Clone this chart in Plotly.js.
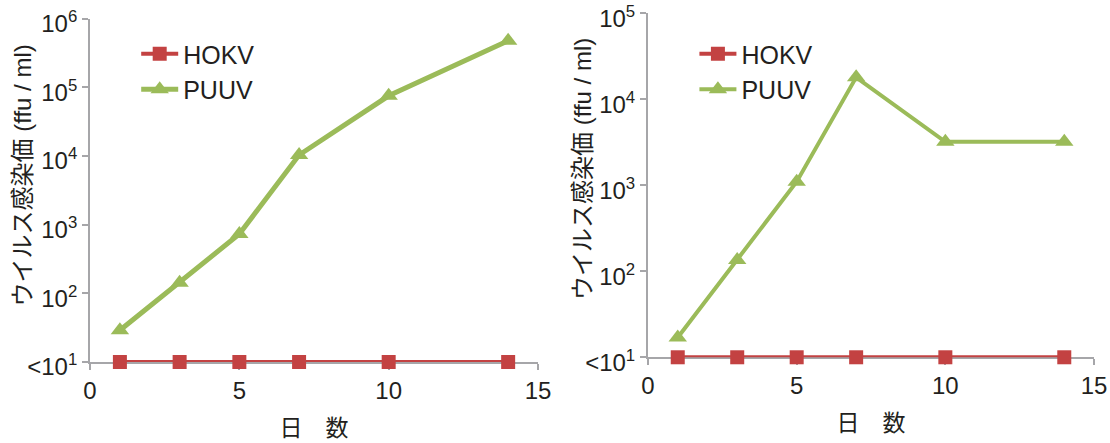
<!DOCTYPE html>
<html><head><meta charset="utf-8">
<script src="https://cdn.plot.ly/plotly-3.0.1.min.js"></script>
<style>body{margin:0;background:#fff}</style>
</head><body><div id="chart" style="width:1110px;height:443px"></div>
<script>
// Data (days vs virus titer, ffu/ml); "<10^1" plotted at 10
const days = [1, 3, 5, 7, 10, 14];
const hokvLeft = [10, 10, 10, 10, 10, 10];
const puuvLeft = [29, 142, 730, 10300, 75000, 475000];
const hokvRight = [10, 10, 10, 10, 10, 10];
const puuvRight = [17, 135, 1100, 18000, 3200, 3200];
const xTickVals = [0, 5, 10, 15];
const yTickValsLeft = [10, 100, 1000, 10000, 100000, 1000000];
const yTickTextLeft = ['&lt;10<sup>1</sup>', '10<sup>2</sup>', '10<sup>3</sup>', '10<sup>4</sup>', '10<sup>5</sup>', '10<sup>6</sup>'];
const yTickValsRight = [10, 100, 1000, 10000, 100000];
const yTickTextRight = ['&lt;10<sup>1</sup>', '10<sup>2</sup>', '10<sup>3</sup>', '10<sup>4</sup>', '10<sup>5</sup>'];
const seriesNames = ['HOKV', 'PUUV'];
const xTitle = '日　数';
const yTitle = 'ウイルス感染価 (ffu / ml)';

const RED = '#c34242';
const GREEN = '#9bbb59';
const GRAY = '#a6a6a9';
const TXT = '#231f20';
const FONT = 'Liberation Sans, Arial, Noto Sans CJK JP, sans-serif';

function redTrace(y, xa, ya, lg) {
  return {x: days, y: y, xaxis: xa, yaxis: ya, legend: lg, name: seriesNames[0], mode: 'lines+markers',
    line: {color: RED, width: 4}, marker: {symbol: 'square', size: 14, color: RED}, cliponaxis: false};
}
function greenTrace(y, xa, ya, lg, w) {
  return {x: days, y: y, xaxis: xa, yaxis: ya, legend: lg, name: seriesNames[1], mode: 'lines+markers',
    line: {color: GREEN, width: w}, marker: {symbol: 'triangle-up', size: 16, color: GREEN}, cliponaxis: false};
}

const data = [
  redTrace(hokvLeft, 'x', 'y', 'legend'),
  greenTrace(puuvLeft, 'x', 'y', 'legend', 5),
  redTrace(hokvRight, 'x2', 'y2', 'legend2'),
  greenTrace(puuvRight, 'x2', 'y2', 'legend2', 4)
];

function xAxis(domain, anchor) {
  return {domain: domain, anchor: anchor, range: [0, 15], tickvals: xTickVals, showline: true, linecolor: GRAY, linewidth: 2,
    ticks: 'outside', ticklen: 6, tickwidth: 2, tickcolor: GRAY, showgrid: false, zeroline: false, layer: 'below traces',
    tickfont: {size: 24, color: TXT, family: FONT}, automargin: false,
    title: {text: xTitle, font: {size: 23, color: TXT, family: FONT}, standoff: 17}};
}
function yAxis(domain, anchor, range, vals, text) {
  return {domain: domain, anchor: anchor, type: 'log', range: range, tickvals: vals, ticktext: text, showline: true, linecolor: GRAY, linewidth: 2,
    ticks: 'outside', ticklen: 6, tickwidth: 2, tickcolor: GRAY, showgrid: false, zeroline: false, layer: 'below traces',
    tickfont: {size: 24, color: TXT, family: FONT}, automargin: false, ticklabeloverflow: 'allow', ticklabelshift: 5};
}
function legendDef(x, y) {
  return {x: x, y: y, xanchor: 'left', yanchor: 'top', bgcolor: 'rgba(0,0,0,0)', font: {size: 25, color: TXT, family: FONT}, itemwidth: 37};
}
function yTitleAnno(x, y) {
  return {text: yTitle, xref: 'paper', yref: 'paper', x: x, y: y, xanchor: 'center', yanchor: 'middle', textangle: -90,
    showarrow: false, font: {size: 24, color: TXT, family: FONT}};
}

const layout = {
  width: 1110, height: 443, margin: {l: 0, r: 0, t: 0, b: 0},
  paper_bgcolor: '#fff', plot_bgcolor: '#fff', font: {family: FONT, color: TXT},
  showlegend: true,
  xaxis: xAxis([0.0811, 0.4847], 'y'),
  yaxis: yAxis([0.1828, 0.9582], 'x', [1, 6.00001], yTickValsLeft, yTickTextLeft),
  xaxis2: xAxis([0.5838, 0.9856], 'y2'),
  yaxis2: yAxis([0.1935, 0.970], 'x2', [1, 5.00001], yTickValsRight, yTickTextRight),
  legend: legendDef(0.1227, 0.930),
  legend2: legendDef(0.6256, 0.930),
  annotations: [yTitleAnno(21.5 / 1110, 1 - 176 / 443), yTitleAnno(582 / 1110, 1 - 169 / 443)]
};

Plotly.newPlot('chart', data, layout, {displayModeBar: false, staticPlot: true});
</script>
</body></html>
